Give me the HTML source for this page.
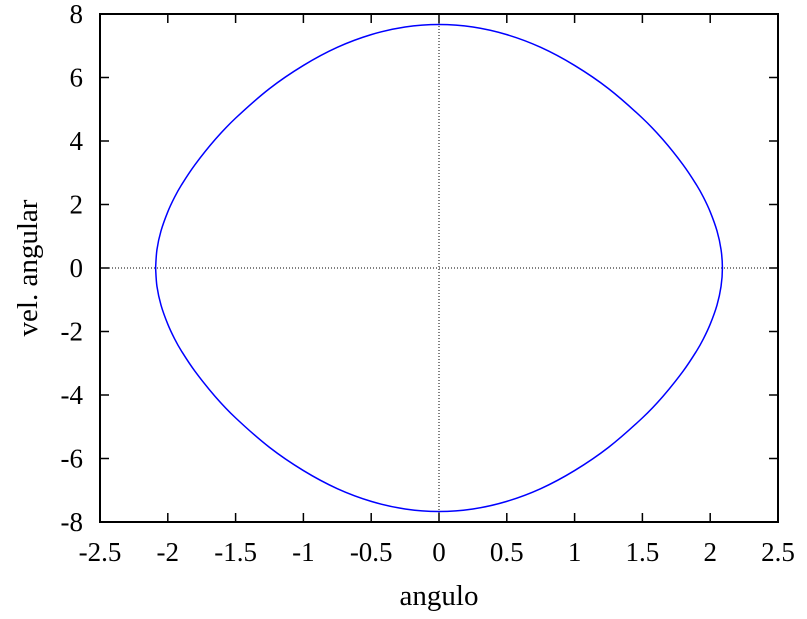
<!DOCTYPE html>
<html><head><meta charset="utf-8"><style>
body{margin:0;background:#fff}
svg text{font-family:"Liberation Serif",serif;fill:#000}
</style></head><body>
<svg id="chart" width="807" height="614" xmlns="http://www.w3.org/2000/svg"></svg>
<script>
const xTicks=[-2.5,-2,-1.5,-1,-0.5,0,0.5,1,1.5,2,2.5];
const yTicks=[-8,-6,-4,-2,0,2,4,6,8];
const angleUpper=[-2.09,-2.08,-2.05,-2.0,-1.95,-1.9,-1.8,-1.65,-1.5,-1.25,-1.0,-0.75,-0.5,-0.25,0,0.25,0.5,0.75,1.0,1.25,1.5,1.65,1.8,1.9,1.95,2.0,2.05,2.08,2.09];
const velUpper=[0,0.58,1.17,1.77,2.23,2.61,3.25,4.05,4.72,5.65,6.38,6.95,7.35,7.59,7.67,7.59,7.35,6.95,6.38,5.65,4.72,4.05,3.25,2.61,2.23,1.77,1.17,0.58,0];
const angleLower=[2.08,2.05,2.0,1.95,1.9,1.8,1.65,1.5,1.25,1.0,0.75,0.5,0.25,0,-0.25,-0.5,-0.75,-1.0,-1.25,-1.5,-1.65,-1.8,-1.9,-1.95,-2.0,-2.05,-2.08,-2.09];
const velLower=[-0.58,-1.17,-1.77,-2.23,-2.61,-3.25,-4.05,-4.72,-5.65,-6.38,-6.95,-7.35,-7.59,-7.67,-7.59,-7.35,-6.95,-6.38,-5.65,-4.72,-4.05,-3.25,-2.61,-2.23,-1.77,-1.17,-0.58,0];
const L=100,R=778,T=14,B=522;
const sx=v=>L+(v+2.5)/5*(R-L);
const sy=v=>B-(v+8)/16*(B-T);
const svg=document.getElementById('chart');
const NS='http://www.w3.org/2000/svg';
function mk(tag,attrs){const e=document.createElementNS(NS,tag);for(const k in attrs)e.setAttribute(k,attrs[k]);svg.appendChild(e);return e;}
let e=mk('line',{x1:sx(0),y1:T,x2:sx(0),y2:B,stroke:'#000','stroke-width':1,'stroke-dasharray':'1,2'});


e=mk('line',{x1:L,y1:sy(0),x2:R,y2:sy(0),stroke:'#000','stroke-width':1,'stroke-dasharray':'1,2'});


xTicks.forEach(t=>{
  const x=sx(t);
  let l=mk('path',{d:`M${x},${B}v-9M${x},${T}v9`,stroke:'#000','stroke-width':1.5});
  
  
  let tx=mk('text',{x:x,y:561,'text-anchor':'middle',style:'font-size:27px'});tx.textContent=t;
  
  
});
yTicks.forEach(t=>{
  const y=sy(t);
  let l=mk('path',{d:`M${L},${y}h9M${R},${y}h-9`,stroke:'#000','stroke-width':1.5});
  
  
  let tx=mk('text',{x:83,y:y+9,'text-anchor':'end',style:'font-size:27px'});tx.textContent=t;
  
  
});
const pts=[];
angleUpper.forEach((a,i)=>pts.push([sx(a),sy(velUpper[i])]));
angleLower.forEach((a,i)=>pts.push([sx(a),sy(velLower[i])]));
let d=`M${pts[0][0]},${pts[0][1]}`;
const n=pts.length;
for(let i=0;i<n-1;i++){
  const p0=pts[(i-1+n)%n],p1=pts[i],p2=pts[i+1],p3=pts[(i+2)%n];
  d+=`C${p1[0]+(p2[0]-p0[0])/6},${p1[1]+(p2[1]-p0[1])/6} ${p2[0]-(p3[0]-p1[0])/6},${p2[1]-(p3[1]-p1[1])/6} ${p2[0]},${p2[1]}`;
}
e=mk('path',{d:d,fill:'none',stroke:'#0000ff','stroke-width':1.5});


e=mk('rect',{x:L,y:T,width:R-L,height:B-T,fill:'none',stroke:'#000','stroke-width':2});


e=mk('text',{x:439,y:605,'text-anchor':'middle',style:'font-size:29px'});e.textContent='angulo';


e=mk('text',{x:0,y:0,'text-anchor':'middle',transform:'translate(37,268) rotate(-90)',style:'font-size:29px'});e.textContent='vel. angular';


</script>
</body></html>
